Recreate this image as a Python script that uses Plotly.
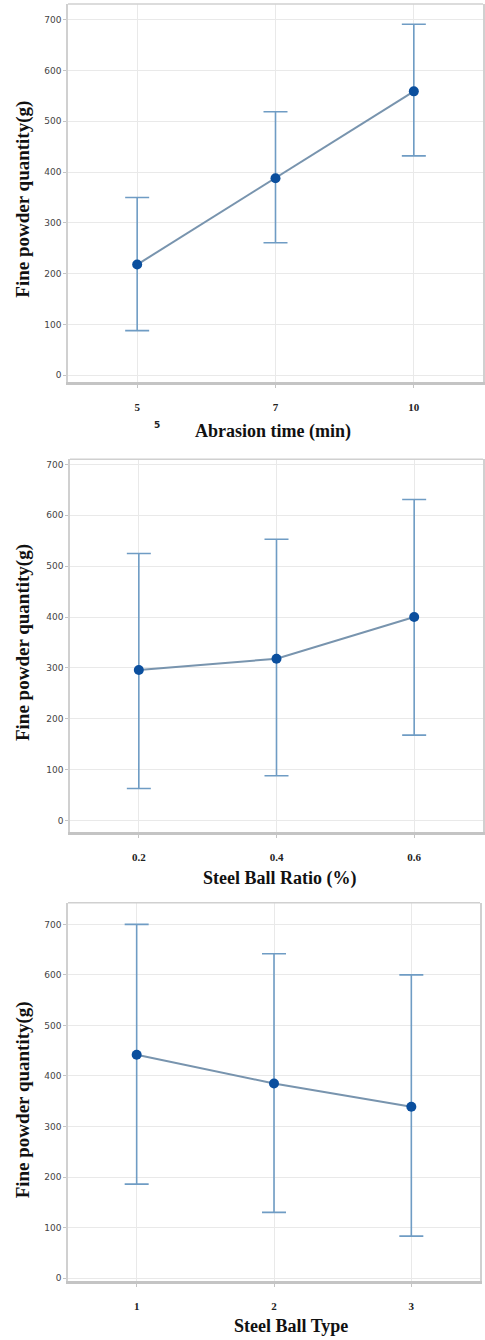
import plotly.graph_objects as go

# ---- data ----
abrasion_time = ["5", "7", "10"]
abrasion_mean = [218, 388, 559]
abrasion_err_plus = [132, 131, 132]
abrasion_err_minus = [130, 127, 127]

ball_ratio = ["0.2", "0.4", "0.6"]
ratio_mean = [296, 318, 400]
ratio_err_plus = [229, 235, 231]
ratio_err_minus = [233, 230, 232]

ball_type = ["1", "2", "3"]
type_mean = [442, 385, 339]
type_err_plus = [258, 257, 261]
type_err_minus = [256, 255, 256]

y_ticks = [0, 100, 200, 300, 400, 500, 600, 700]
y_title = "Fine powder quantity(g)"
x_titles = ["Abrasion time (min)", "Steel Ball Ratio (%)", "Steel Ball Type"]

W, H = 485, 1340

panels = [
    dict(x=abrasion_time, y=abrasion_mean, ep=abrasion_err_plus, em=abrasion_err_minus,
         px=(68, 483), py=(4, 383), yr=[-14, 731], title_xy=(273, 432), ytitle_y=200),
    dict(x=ball_ratio, y=ratio_mean, ep=ratio_err_plus, em=ratio_err_minus,
         px=(70, 483), py=(460, 833), yr=[-22, 710], title_xy=(279, 880), ytitle_y=644),
    dict(x=ball_type, y=type_mean, ep=type_err_plus, em=type_err_minus,
         px=(68, 480), py=(904, 1283), yr=[-6, 743], title_xy=(291, 1328), ytitle_y=1102),
]

fig = go.Figure()
serif = "Liberation Serif, Times New Roman, serif"
sans = "DejaVu Sans, Open Sans, sans-serif"

annotations = []
shapes = []
layout = {}
for i, p in enumerate(panels, start=1):
    xa = "x" if i == 1 else f"x{i}"
    ya = "y" if i == 1 else f"y{i}"
    fig.add_trace(go.Scatter(
        x=p["x"], y=p["y"], xaxis=xa, yaxis=ya, mode="lines+markers",
        line=dict(color="#7894ae", width=2),
        marker=dict(color="#0b4f9e", size=10),
        error_y=dict(type="data", symmetric=False, array=p["ep"], arrayminus=p["em"],
                     color="#6f9cc4", thickness=1.6, width=12),
        showlegend=False,
    ))
    xkey = "xaxis" if i == 1 else f"xaxis{i}"
    ykey = "yaxis" if i == 1 else f"yaxis{i}"
    layout[xkey] = dict(
        domain=[p["px"][0] / W, p["px"][1] / W], anchor=ya,
        type="category", range=[-0.5, 2.5],
        showgrid=True, gridcolor="#e9e9e9", gridwidth=1,
        showline=True, linecolor="#c4c4c4", linewidth=2.5,
        ticks="outside", ticklen=3, tickcolor="#c4c4c4",
        ticklabelstandoff=10,
        tickfont=dict(family=serif, size=11, color="#222", weight="bold"),
        zeroline=False, fixedrange=True,
    )
    layout[ykey] = dict(
        domain=[1 - p["py"][1] / H, 1 - p["py"][0] / H], anchor=xa,
        range=p["yr"], tickvals=y_ticks,
        showgrid=True, gridcolor="#e9e9e9", gridwidth=1,
        showline=True, linecolor="#d0d0d0", linewidth=1.5, mirror=True,
        ticks="outside", ticklen=3, tickcolor="#c4c4c4",
        tickfont=dict(family=sans, size=9, color="#444"),
        zeroline=False, fixedrange=True,
    )
    shapes.append(dict(type="line", xref=f"{xa} domain", yref=f"{ya} domain",
                       x0=0, x1=1, y0=1, y1=1, line=dict(color="#d0d0d0", width=1.5)))
    tx, ty = p["title_xy"]
    annotations.append(dict(text=f"<b>{x_titles[i-1]}</b>", xref="paper", yref="paper",
                            x=tx / W, y=1 - ty / H, showarrow=False,
                            xanchor="center", yanchor="middle",
                            font=dict(family=serif, size=18, color="#111")))
    annotations.append(dict(text=f"<b>{y_title}</b>", xref="paper", yref="paper",
                            x=23 / W, y=1 - p["ytitle_y"] / H, showarrow=False, textangle=-90,
                            xanchor="center", yanchor="middle",
                            font=dict(family=serif, size=19, color="#111")))

# stray label under first panel
annotations.append(dict(text="<b>5</b>", xref="paper", yref="paper", x=157 / W, y=1 - 426 / H,
                        showarrow=False, xanchor="center", yanchor="middle",
                        font=dict(family=sans, size=9, color="#222")))

fig.update_layout(
    width=W, height=H, margin=dict(l=0, r=0, t=0, b=0),
    paper_bgcolor="white", plot_bgcolor="white",
    annotations=annotations, shapes=shapes, **layout,
)

fig.write_html("out.html", config={"displayModeBar": False},
               post_script="document.body.style.margin='0px';document.body.style.overflow='hidden';")
